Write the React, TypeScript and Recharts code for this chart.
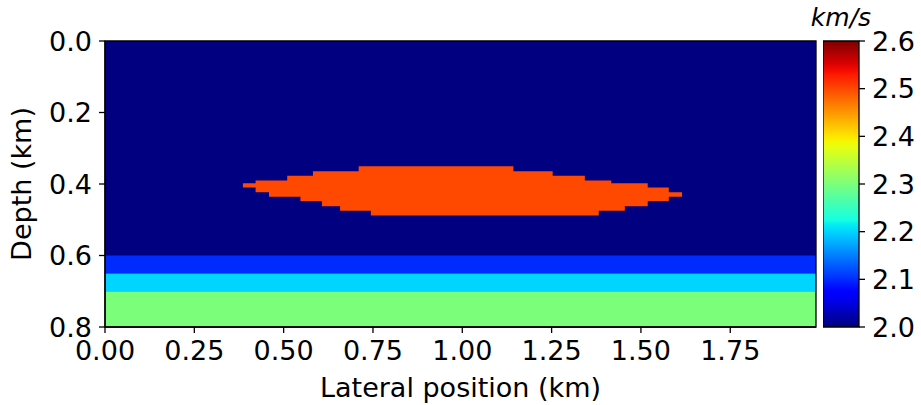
import { ComposedChart, Area, XAxis, YAxis, CartesianGrid, ReferenceArea, Bar } from 'recharts';

// lateral breakpoints (km) of the stepped anomaly, with its top and bottom depth (km)
const lateral = [0.386, 0.4215, 0.459, 0.51, 0.547, 0.582, 0.607, 0.658, 0.71, 0.744, 1.143, 1.253, 1.343, 1.382, 1.417, 1.455, 1.519, 1.578, 1.615];
const topDepth = [0.398, 0.39, 0.39, 0.377, 0.377, 0.364, 0.364, 0.364, 0.35, 0.35, 0.364, 0.377, 0.39, 0.39, 0.398, 0.398, 0.41, 0.423, 0.423];
const bottomDepth = [0.41, 0.423, 0.436, 0.436, 0.448, 0.448, 0.462, 0.475, 0.475, 0.488, 0.488, 0.488, 0.488, 0.475, 0.475, 0.462, 0.448, 0.436, 0.436];

// flat layers at the bottom
const layerTop = [0.6, 0.65, 0.7];
const layerBottom = [0.65, 0.7, 0.8];
const layerVelocity = [2.1, 2.2, 2.3];

const backgroundVelocity = 2.0;
const anomalyVelocity = 2.5;

const xTicks = [0, 0.25, 0.5, 0.75, 1.0, 1.25, 1.5, 1.75];
const yTicks = [0, 0.2, 0.4, 0.6, 0.8];
const cbarTicks = [2.0, 2.1, 2.2, 2.3, 2.4, 2.5, 2.6];
const vMin = 2.0;
const vMax = 2.6;

const FONT = '"DejaVu Sans", sans-serif';

// matplotlib jet
const JET: Record<string, number[][]> = {
  r: [[0, 0], [0.35, 0], [0.66, 1], [0.89, 1], [1, 0.5]],
  g: [[0, 0], [0.125, 0], [0.375, 1], [0.64, 1], [0.91, 0], [1, 0]],
  b: [[0, 0.5], [0.11, 1], [0.34, 1], [0.65, 0], [1, 0]],
};
const chan = (pts: number[][], t: number) => {
  for (let i = 1; i < pts.length; i++) {
    if (t <= pts[i][0]) {
      const [x0, y0] = pts[i - 1];
      const [x1, y1] = pts[i];
      return y0 + ((t - x0) / (x1 - x0)) * (y1 - y0);
    }
  }
  return pts[pts.length - 1][1];
};
const jet = (v: number) => {
  const t = Math.min(1, Math.max(0, (v - vMin) / (vMax - vMin)));
  const h = (c: number) => Math.round(c * 255).toString(16).padStart(2, '0');
  return '#' + h(chan(JET.r, t)) + h(chan(JET.g, t)) + h(chan(JET.b, t));
};

const anomaly = lateral.map((x, i) => ({ x, depth: [topDepth[i], bottomDepth[i]] }));
const cbarData = [{ name: 'v', range: [vMin, vMax] }];
const gradStops = Array.from({ length: 41 }, (_, i) => i / 40);

const tickStyle = { fontSize: 27, fill: '#000', fontFamily: FONT };

export default function App() {
  return (
    <div style={{ position: 'absolute', left: 0, top: 0, width: 921, height: 405, background: '#fff', fontFamily: FONT }}>
      <div style={{ position: 'absolute', left: 0, top: 0 }}>
        <ComposedChart width={820} height={405} data={anomaly} margin={{ top: 41, right: 4, bottom: 0, left: 0 }}>
          <CartesianGrid horizontal={false} vertical={false} fill={jet(backgroundVelocity)} stroke="none" />
          <XAxis
            dataKey="x"
            type="number"
            domain={[0, 1.99]}
            ticks={xTicks}
            tickFormatter={(v: number) => v.toFixed(2)}
            allowDataOverflow
            height={78}
            tickSize={6}
            tickMargin={8}
            stroke="#000"
            strokeWidth={1.3}
            tick={tickStyle}
            label={{ value: 'Lateral position (km)', position: 'insideBottom', offset: 8, fontSize: 27, fill: '#000', fontFamily: FONT }}
          />
          <YAxis
            type="number"
            domain={[0, 0.8]}
            reversed
            ticks={yTicks}
            tickFormatter={(v: number) => v.toFixed(1)}
            allowDataOverflow
            width={105}
            tickSize={6}
            tickMargin={7}
            stroke="#000"
            strokeWidth={1.3}
            tick={tickStyle}
            label={{ value: 'Depth (km)', angle: -90, position: 'insideLeft', offset: 21, style: { textAnchor: 'middle' }, fontSize: 27, fill: '#000', fontFamily: FONT }}
          />
          {layerTop.map((t, i) => (
            <ReferenceArea key={i} x1={0} x2={1.99} y1={t} y2={layerBottom[i]} fill={jet(layerVelocity[i])} fillOpacity={1} stroke="none" ifOverflow="hidden" />
          ))}
          <Area
            dataKey="depth"
            type="stepAfter"
            fill={jet(anomalyVelocity)}
            fillOpacity={1}
            stroke="none"
            dot={false}
            activeDot={false}
            isAnimationActive={false}
          />
          <ReferenceArea x1={0} x2={1.99} y1={0} y2={0.8} fill="none" stroke="#000" strokeWidth={1.3} />
        </ComposedChart>
      </div>

      <div style={{ position: 'absolute', left: 823, top: 0 }}>
        <ComposedChart width={98} height={405} data={cbarData} margin={{ top: 41, right: 0, bottom: 78, left: 0 }} barCategoryGap={0}>
          <defs>
            <linearGradient id="jet" x1="0" y1="1" x2="0" y2="0">
              {gradStops.map((s) => (
                <stop key={s} offset={s} stopColor={jet(vMin + s * (vMax - vMin))} />
              ))}
            </linearGradient>
          </defs>
          <XAxis dataKey="name" type="category" hide />
          <YAxis
            orientation="right"
            type="number"
            domain={[vMin, vMax]}
            ticks={cbarTicks}
            tickFormatter={(v: number) => v.toFixed(1)}
            width={62}
            tickSize={6}
            tickMargin={7}
            axisLine={false}
            stroke="#000"
            strokeWidth={1.3}
            tick={tickStyle}
          />
          <Bar dataKey="range" fill="url(#jet)" stroke="#000" strokeWidth={1.3} isAnimationActive={false} />
        </ComposedChart>
      </div>

      <div style={{ position: 'absolute', left: 806, top: 3, width: 70, textAlign: 'center', fontSize: 25, fontStyle: 'italic', fontFamily: FONT, color: '#000' }}>
        km/s
      </div>
    </div>
  );
}
